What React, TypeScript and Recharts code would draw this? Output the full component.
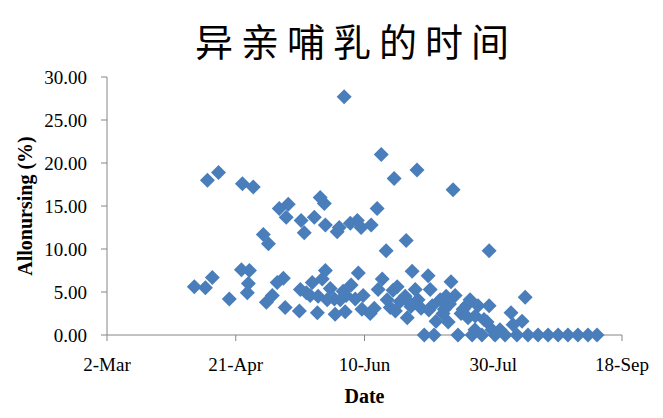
import { ScatterChart, Scatter, XAxis, YAxis, ZAxis, Label } from "recharts";

// days after 2-Mar, and allonursing (%)
const days = [
  33.9, 39.0, 38.2, 40.9, 43.3, 47.5, 52.2, 52.6, 54.5, 54.9, 55.3, 56.8,
  60.7, 61.9, 62.7, 64.2, 66.1, 66.9, 68.5, 69.2, 69.6, 70.4, 74.7, 75.1,
  75.4, 76.6, 77.4, 78.9, 79.7, 80.5, 82.0, 82.8, 83.6, 84.4, 84.8, 84.8,
  85.5, 86.7, 88.3, 89.4, 90.2, 90.6, 91.7, 92.1, 92.9, 94.5, 94.8, 96.4,
  97.2, 97.6, 98.7, 99.5, 102.2, 102.6, 103.8, 104.9, 105.3, 106.5, 106.9,
  108.4, 108.8, 110.0, 111.1, 111.5, 112.7, 113.8, 115.8, 116.2, 116.6,
  117.7, 118.5, 119.7, 120.4, 120.8, 122.0, 123.2, 124.7, 125.5, 126.3,
  127.0, 127.8, 129.4, 130.5, 131.7, 132.5, 133.6, 134.4, 135.2, 136.3,
  138.3, 139.8, 140.2, 141.0, 141.8, 142.9, 144.1, 145.6, 146.4, 147.6,
  148.4, 148.4, 149.5, 150.7, 152.6, 154.6, 156.9, 157.7, 159.2, 161.2,
  162.4, 163.5, 167.4, 171.3, 175.2, 179.0, 182.9, 186.8, 190.3, 81.7,
  88.6, 92.5, 99.0, 112.0, 118.0, 125.0, 131.0, 133.0, 137.5, 143.0,
];

const allonursing = [
  5.6, 18.0, 5.5, 6.7, 18.9, 4.2, 7.6, 17.6, 4.9, 6.0, 7.5, 17.2,
  11.7, 3.8, 10.6, 4.6, 6.1, 14.7, 6.6, 3.2, 13.7, 15.2, 2.8, 5.3,
  13.3, 11.9, 4.9, 4.6, 6.1, 13.7, 4.5, 16.0, 6.5, 15.3, 7.5, 12.8,
  4.1, 5.4, 4.2, 12.0, 12.5, 4.1, 5.1, 27.7, 4.6, 13.0, 5.8, 4.2,
  13.3, 7.2, 12.5, 4.6, 2.5, 12.8, 3.1, 14.7, 5.3, 21.0, 6.5,
  9.8, 4.1, 3.2, 5.2, 18.2, 5.6, 3.9, 4.5, 11.0, 2.0,
  3.7, 7.4, 5.3, 19.2, 4.1, 3.1, 0.0, 6.9, 5.3, 3.4,
  0.0, 1.6, 4.1, 2.5, 4.5, 1.5, 6.2, 16.9, 4.6, 0.0,
  3.0, 3.5, 2.0, 4.1, 0.0, 0.6, 3.4, 0.0, 1.8, 1.5,
  9.8, 3.4, 0.6, 0.0, 0.6, 0.0, 2.6, 1.2, 0.0, 1.6,
  4.4, 0.0, 0.0, 0.0, 0.0, 0.0, 0.0, 0.0, 0.0, 2.6,
  2.4, 2.7, 3.0, 2.8, 3.3, 2.9, 3.0, 3.6, 2.5, 2.2,
];

const dateTicks = [0, 50, 100, 150, 200];
const dateLabels = ["2-Mar", "21-Apr", "10-Jun", "30-Jul", "18-Sep"];
const yTicks = [0, 5, 10, 15, 20, 25, 30];

const data = days.map((d, i) => ({ day: d, value: allonursing[i] }));

const BLUE = "#4A7EBB";
const AXIS = "#868686";
const serif = "'Liberation Serif', 'DejaVu Serif', serif";

const Diamond = (props: any) => {
  const { cx, cy } = props;
  const r = 7.5;
  return (
    <polygon
      points={`${cx},${cy - r} ${cx + r},${cy} ${cx},${cy + r} ${cx - r},${cy}`}
      fill={BLUE}
    />
  );
};

export default function App() {
  return (
    <div style={{ position: "absolute", left: 0, top: 0, width: 663, height: 418, background: "#fff" }}>
      <div
        style={{
          position: "absolute",
          left: 356,
          top: 39,
          transform: "translate(-50%, -50%)",
          fontFamily: "'Noto Sans CJK SC', sans-serif",
          fontSize: 38,
          letterSpacing: 8,
          whiteSpace: "nowrap",
          color: "#000",
        }}
      >
        异亲哺乳的时间
      </div>
      <ScatterChart width={663} height={418} margin={{ top: 77, right: 41, bottom: 21, left: 0 }}>
        <XAxis
          type="number"
          dataKey="day"
          domain={[0, 200]}
          ticks={dateTicks}
          tickFormatter={(v) => dateLabels[dateTicks.indexOf(v)] ?? ""}
          height={62}
          stroke={AXIS}
          tickSize={6}
          tickMargin={17}
          tick={{ fill: "#000", fontSize: 19, fontFamily: serif }}
        >
          <Label
            value="Date"
            position="insideBottom"
            offset={-6}
            style={{ fill: "#000", fontSize: 20, fontWeight: "bold", fontFamily: serif }}
          />
        </XAxis>
        <YAxis
          type="number"
          dataKey="value"
          domain={[0, 30]}
          ticks={yTicks}
          tickFormatter={(v) => v.toFixed(2)}
          width={107}
          stroke={AXIS}
          tickSize={6}
          tickMargin={14}
          tick={{ fill: "#000", fontSize: 19, fontFamily: serif }}
        >
          <Label
            value="Allonursing (%)"
            angle={-90}
            position="insideLeft"
            offset={25}
            style={{ fill: "#000", fontSize: 20, fontWeight: "bold", fontFamily: serif, textAnchor: "middle" }}
          />
        </YAxis>
        <ZAxis range={[100, 100]} />
        <Scatter data={data} shape={<Diamond />} isAnimationActive={false} />
      </ScatterChart>
    </div>
  );
}
